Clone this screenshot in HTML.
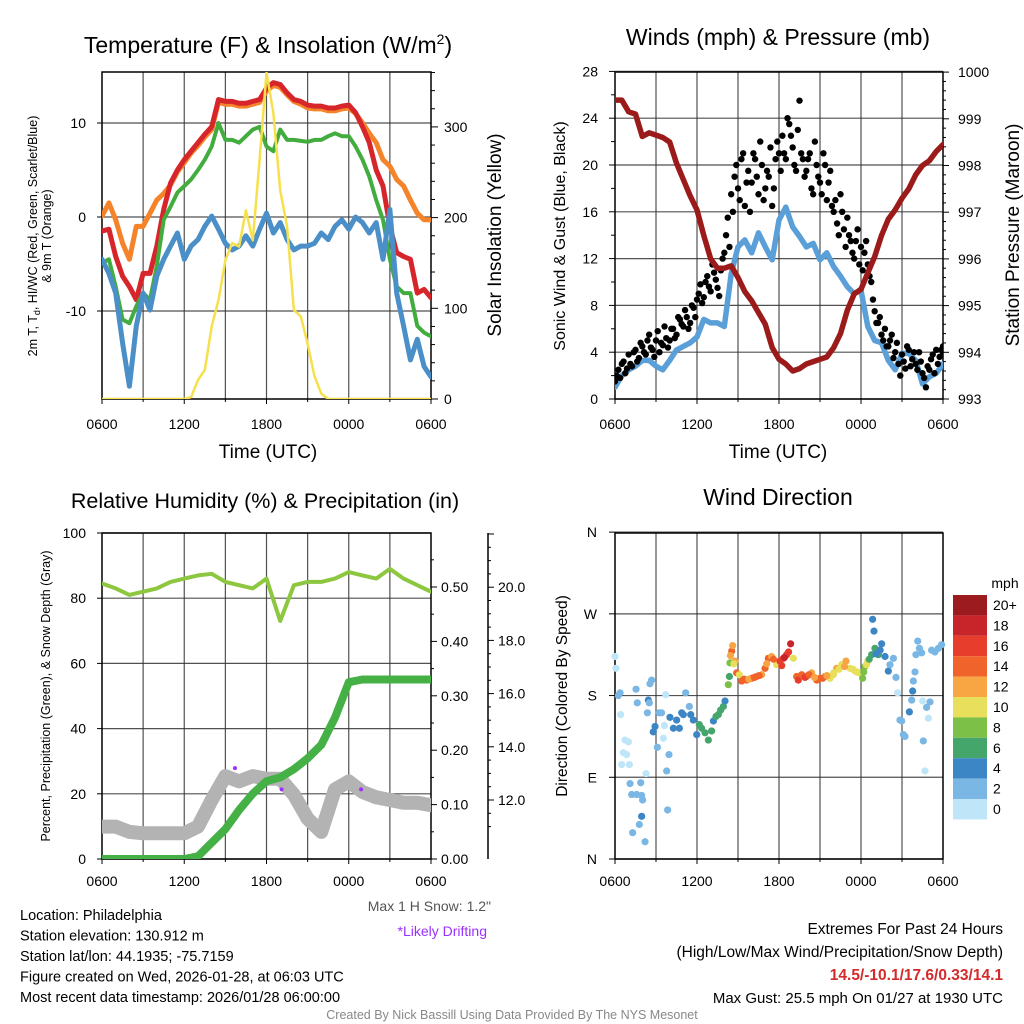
<!DOCTYPE html>
<html><head><meta charset="utf-8">
<style>
html,body{margin:0;padding:0;background:#fff;}
svg{display:block;font-family:"Liberation Sans",sans-serif;}
</style></head>
<body>
<svg id="c" width="1024" height="1024" viewBox="0 0 1024 1024" xmlns="http://www.w3.org/2000/svg">
<defs>
<clipPath id="cp1"><rect x="102" y="72" width="329" height="327"/></clipPath>
<clipPath id="cp2"><rect x="615" y="70" width="328" height="329"/></clipPath>
<clipPath id="cp3"><rect x="102" y="533" width="329" height="326"/></clipPath>
<clipPath id="cp4"><rect x="611" y="529" width="336" height="334"/></clipPath>
</defs>
</svg>
<script>
// ---------- data (half-hour steps from 0600 UTC, 49 values) ----------
const tRed=[-1.5,-1.3,-4.2,-6.3,-7.4,-8.8,-6,-6,-3.1,0.8,3.6,5,6.1,7,7.9,8.8,9.6,12.5,12.3,12.3,12.1,12.1,12.3,12.5,13.7,14.3,14.1,13.2,12.5,12.3,11.9,11.8,11.8,11.6,11.6,11.8,11.9,11.1,9.6,7.9,5.0,3.3,-1,-3.8,-4.2,-4.5,-8.1,-7.7,-8.6];
const tOrange=[0.1,1.5,-0.3,-2.8,-4.5,-1,-1,0.4,1.8,2.5,3.4,4.8,5.8,6.8,7.6,8.5,9.3,12.2,12.0,12.0,11.8,11.8,12.0,12.2,13.4,14.0,13.8,13.0,12.3,12.0,11.6,11.5,11.5,11.3,11.3,11.5,11.6,11.0,10.0,8.9,7.9,6.1,5.4,4.0,3.3,1.8,0.4,-0.3,-0.3];
const tGreen=[-4.9,-4.5,-7.4,-10.9,-11.3,-9.5,-8.1,-8.8,-5.2,-0.3,1.1,2.6,3.3,4,5,6.1,7.5,10,8.2,8.2,7.9,8.6,9.3,9.6,7.5,7,9.3,8.2,8.2,8.1,8,8.2,8.2,8.6,8.9,8.6,8.6,7.5,6.1,4.3,1.8,-0.3,-4.5,-7.4,-8.1,-8.1,-11.6,-12.3,-12.7];
const tBlue=[-4.5,-6,-8.1,-13.4,-18,-11.6,-8.1,-9.9,-6.3,-4.5,-3.1,-1.7,-4.5,-3.1,-2.4,-1,0.1,-1.3,-2.8,-3.5,-3.1,-2,-3.1,-1.3,0.4,-1.7,-0.6,-2.4,-3.5,-3.1,-3.1,-2.8,-1.7,-2.4,-1,-0.3,-1.3,0,-0.6,-1.7,-0.6,-4.5,0.8,-8.1,-11.6,-15.2,-13,-15.9,-17];
const insol=[0,0,0,0,0,0,0,0,0,0,0,0,0,2,21,32,80,109,153,172,168,208,175,264,360,315,230,190,98,91,61,25,6,0,0,0,0,0,0,0,0,0,0,0,0,0,0,0,0];
const wind=[1,2,2.5,2.8,3.3,3.3,2.8,2.5,3.3,4.2,4.5,4.8,5.3,6.8,6.5,6.5,6.2,10.7,13,13.6,12.5,14.2,13,11.9,15.3,16.4,14.7,13.9,13,13.3,11.9,12.5,11.3,10.5,9.6,9,9.3,6.2,5,4.8,3.3,2.5,3.9,3.9,3.3,1.3,1.9,2.2,3];
const pressure=[999.4,999.4,999.15,999.1,998.62,998.7,998.65,998.6,998.5,998.05,997.7,997.35,997.05,996.5,996.0,995.8,995.8,995.85,995.6,995.3,995.1,994.85,994.6,994.1,993.85,993.75,993.6,993.65,993.75,993.8,993.85,993.9,994.1,994.4,994.9,995.25,995.35,995.7,996.05,996.5,996.85,997.05,997.3,997.5,997.8,998.0,998.1,998.3,998.45];
// gusts, quarter-hour steps (97 values each; second set offset by 7.5 min)
const gust=[1.5,2.5,3,2.2,3.8,2.8,4.2,3.5, 4.5,3.8,5.5,4.2,5,4,4.6,5.2, 5,6,5.5,6.8,6.2,7,6.5,7.8, 8.5,9.8,8.7,10.5,9.2,10.8,9.5,11, 12.5,15.5,17.5,19,18,20.5,16.5,19.5, 18.5,20.5,17.5,20,18,19,16.5,20.5, 21,22.5,20.5,23.5,21.5,19.5,25.5,20.5, 19.5,21,17.5,20,18.5,21,17,19.5, 16,15,17.5,14.5,15.5,13.5,12,14.5, 13,12.5,11.5,10,7.5,6.5,5.5,6, 4.5,5.5,4,3,3.8,2.6,4.2,3.4, 3,4,2.2,1,2.5,3.8,4.2,3.6,4.5];
const gust2=[2,1.8,3.2,2.6,3,4,3.2,4.8, 4,5,4.4,3.6,5.8,4.8,6.2,4.4, 6,5.2,7,6.4,7.6,6,8,7, 9,8.2,10,9.6,11.5,10.2,8.8,12, 14,13,16,20,17,21,18.5,16, 21,19,22,17,19.5,21.5,18,22, 19.5,21,24,22.5,20,23,21,19, 20.5,18,22,19,17.5,20,18.5,16.5, 17,14,16,13,14,12.5,13.5,11.5, 11,13.5,10.5,8.5,6.5,7,5,4.5, 5,3.5,4.8,2,3.2,4.5,2.8,4, 2.5,3.2,1.8,2.8,3.4,2.2,3,4.2,4];
// RH / precip / snow, hourly (25 values)
const rh=[84.5,83,81,82,83,85,86,87,87.5,85,84,83,86,73,84,85,85,86,88,87,86,89,86,84,82];
const precip=[0,0,0,0,0,0,0,0.005,0.03,0.055,0.09,0.12,0.143,0.15,0.165,0.185,0.21,0.26,0.325,0.33,0.33,0.33,0.33,0.33,0.33];
const snow=[11.0,11.0,10.8,10.75,10.75,10.75,10.75,11.0,12.0,12.9,12.7,12.9,12.8,12.8,12.2,11.3,10.8,12.4,12.7,12.3,12.1,12.0,11.9,11.9,11.8];
const driftHours=[9.7,13.1,18.9];
const driftSnow=[13.2,12.4,12.4];
// wind direction
const dirHours=[0,0.07,0.37,0.24,0.41,0.73,0.98,0.61,0.85,0.49,1.05,1.1,1.22,1.59,1.88,1.95,2.02,1.95,1.78,1.29,2.2,2.27,1.54,1.63,2.44,2.51,2.37,2.56,2.68,2.8,2.93,3.1,3.24,3.41,3.54,3.61,3.78,3.85,3.95,3.71,4.02,4.27,4.51,4.71,4.88,5,5.17,5.44,5.54,5.73,5.98,6.17,6.34,6.59,6.83,7.07,7.2,7.39,7.56,7.73,7.93,8.05,8.29,8.37,8.41,8.54,8.61,8.78,8.9,9.1,9.27,9.63,10,10.37,10.73,10.98,11.22,11.46,11.83,12.07,12.32,12.56,12.85,13.05,13.29,13.41,13.66,14.02,14.39,14.76,15,15.37,15.73,15.98,16.22,16.59,16.9,17.2,17.56,17.88,18.12,18.29,18.49,18.78,19.02,19.27,19.51,19.76,18.85,18.95,20,20.12,20.37,20.56,20.68,20.85,20.98,21.1,21.22,21.54,21.71,21.78,21.83,21.95,22.02,22.15,22.27,22.44,22.51,22.56,22.68,22.8,22.93,23.05,23.17,23.41,23.66,23.9,9.45,9.8,10.2,10.55,11.1,11.6,12.2,12.4,12.7,13.9,14.2,14.6,15.2,15.5,16,16.4,16.8,17.4,17.7,18.2,18.4,18.6,19.1,19.4,8.45,8.7];
const dirDegs=[223,210,183,180,159,131,129,117,115,104,104,83,71,71,84,70,65,47,38,29,19,94,187,172,175,172,161,193,197,140,146,123,161,161,133,147,97,54,115,181,156,144,153,144,161,159,183,168,159,153,137,148,144,139,131,141,152,157,159,164,168,174,192,201,216,229,235,218,205,203,196,197,199,201,203,210,221,223,214,218,221,225,237,221,201,197,203,201,205,197,199,201,199,203,210,214,218,210,207,205,199,212,218,225,232,225,237,223,264,251,207,214,221,200,183,153,152,137,135,162,175,185,196,206,225,240,232,227,174,130,97,167,155,173,230,228,232,236,198,198,200,202,215,220,213,222,228,200,203,200,199,202,205,209,212,209,206,206,214,220,226,230,224,215];
const dirSpeeds=[1,1,3,3,1,1,1,1,1,1,1,3,3,3,3,3,3,5,3,3,3,1,3,3,5,3,3,3,3,5,5,3,3,3,1,1,3,3,3,1,5,5,5,5,5,5,3,3,5,5,5,7,7,7,7,7,5,7,7,7,7,5,9,7,9,15,13,13,15,11,15,15,15,15,13,15,15,13,11,17,17,17,19,11,15,17,15,15,13,15,15,15,11,11,13,11,13,11,11,11,9,9,11,7,7,7,5,5,5,5,5,3,3,3,1,3,3,3,3,5,3,5,3,3,3,3,3,3,1,3,1,3,1,3,3,3,3,3,15,13,15,15,13,15,17,19,17,17,15,13,15,13,11,11,13,11,11,9,11,7,5,5,13,11];
const cbLabels=["20+","18","16","14","12","10","8","6","4","2","0"];
const cbColors=["#9b1b1e","#c8252a","#e63d2d","#f0642b","#f8a544","#e8df5c","#7dc047","#45a66c","#3d86c6","#7ab7e4","#bfe5f8"];
const xTickLabels=["0600","1200","1800","0000","0600"];
const tTicks=[-10,0,10];
const iTicks=[0,100,200,300];
const wTicks=[0,4,8,12,16,20,24,28];
const pTicks=[993,994,995,996,997,998,999,1000];
const rhTicks=[0,20,40,60,80,100];
const prTicks=[0,0.1,0.2,0.3,0.4,0.5];
const snTicks=[12,14,16,18,20];
const dirTicks=[0,90,180,270,360];
const dirTickLabels=["N","E","S","W","N"];

// ---------- scales ----------
const X1=h=>102+h*329/24, X2=h=>615+h*328/24;
const yT=v=>217-v*9.4, yI=v=>399-v*0.907;
const yW=v=>399-v*11.7, yP=v=>399-(v-993)*46.7;
const yRH=v=>859-v*3.26, yPr=v=>859-v*544, ySn=v=>800-(v-12)*26.6;
const yD=v=>859-v*0.908;

const svg=document.getElementById('c');
const NS="http://www.w3.org/2000/svg";
function mk(tag,attrs,parent){const e=document.createElementNS(NS,tag);for(const k in attrs)e.setAttribute(k,attrs[k]);(parent||svg).appendChild(e);return e;}
function txt(s,x,y,size,anchor,parent,extra){const e=mk('text',Object.assign({x:x,y:y,'font-size':size,'text-anchor':anchor||'start',fill:'#000'},extra||{}),parent);e.textContent=s;return e;}
function grp(name,clip){const g=mk('g',clip?{'clip-path':'url(#'+clip+')'}:{});return g;}
function poly(arr,step,X,Y,color,w,parent,name){let d='';arr.forEach((v,i)=>{d+=(i?'L':'M')+X(i*step).toFixed(1)+','+Y(v).toFixed(1);});const p=mk('path',{d:d,fill:'none',stroke:color,'stroke-width':w,'stroke-linejoin':'round','stroke-linecap':'round'},parent);return p;}

function frame(x0,x1,y0,y1,hTicksY,parent){
  for(let i=1;i<8;i++){const x=x0+(x1-x0)*i/8;mk('line',{x1:x,x2:x,y1:y0,y2:y1,stroke:'#333','stroke-width':1.2,'stroke-opacity':0.85},parent);}
  hTicksY.forEach(y=>mk('line',{x1:x0,x2:x1,y1:y,y2:y,stroke:'#333','stroke-width':1.2,'stroke-opacity':0.85},parent));
  mk('rect',{x:x0,y:y0,width:x1-x0,height:y1-y0,fill:'none',stroke:'#000','stroke-width':1.5},parent);
  for(let i=0;i<=8;i++){const x=x0+(x1-x0)*i/8;mk('line',{x1:x,x2:x,y1:y1,y2:y1+(i%2?3:5),stroke:'#000','stroke-width':1},parent);}
}
function xlabels(x0,x1,y,parent){xTickLabels.forEach((s,i)=>{const t=txt(s,x0+(x1-x0)*i/4,y,14,'middle',parent);});}

// ---------- Panel 1 ----------
const g1=grp('temperature-panel');
frame(102,431,72,399,tTicks.map(yT),g1);
const c1=mk('g',{'clip-path':'url(#cp1)'},g1);
poly(tOrange,0.5,X1,yT,'#f5832a',5,c1,'temp-9m-orange-line');
poly(tRed,0.5,X1,yT,'#d7262b',5,c1,'temp-2m-red-line');
poly(tGreen,0.5,X1,yT,'#42ad3e',4,c1,'heat-index-green-line');
poly(tBlue,0.5,X1,yT,'#4a8fc7',5,c1,'dewpoint-blue-line');
poly(insol,0.5,X1,yI,'#f7e04d',2.5,c1,'insolation-yellow-line');
tTicks.forEach(v=>{mk('line',{x1:97,x2:102,y1:yT(v),y2:yT(v),stroke:'#000'},g1);txt(String(v),86,yT(v)+5,14,'end',g1);});
for(let v=0;v<=360;v+=20){mk('line',{x1:431,x2:v%100?435:438,y1:yI(v),y2:yI(v),stroke:'#000'},g1);}
iTicks.forEach(v=>txt(String(v),444,yI(v)+5,14,'start',g1));
xlabels(102,431,429,g1);
const t1=txt('Temperature (F) & Insolation (W/m',268,53,23,'middle',g1);
const sup=mk('tspan',{dy:-9,'font-size':14},t1);sup.textContent='2';
const sup2=mk('tspan',{dy:9},t1);sup2.textContent=')';

txt('Time (UTC)',268,458,19,'middle',g1);
const yl1=txt('2m T, T',0,0,12.5,'middle',g1,{transform:'translate(37,236) rotate(-90)'});
const sb=mk('tspan',{dy:3,'font-size':9},yl1);sb.textContent='d';
const sb2=mk('tspan',{dy:-3},yl1);sb2.textContent=', HI/WC (Red, Green, Scarlet/Blue)';
txt('& 9m T (Orange)',0,0,12.5,'middle',g1,{transform:'translate(51,236) rotate(-90)'});
txt('Solar Insolation (Yellow)',0,0,19,'middle',g1,{transform:'translate(501,235) rotate(-90)'});

// ---------- Panel 2 ----------
const g2=grp('wind-panel');
frame(615,943,72,399,wTicks.map(yW),g2);
const c2=mk('g',{'clip-path':'url(#cp2)'},g2);
poly(wind,0.5,X2,yW,'#5a9fd8',5.5,c2,'sonic-wind-line');
gust.forEach((v,i)=>{const c=mk('circle',{cx:X2(i*24/(gust.length-1)),cy:yW(v),r:3.2,fill:'#000'},c2);

});
gust2.forEach((v,i)=>{const c=mk('circle',{cx:X2(Math.min(24,i*24/(gust2.length-1)+0.125)),cy:yW(v),r:3.2,fill:'#000'},c2);

});
poly(pressure,0.5,X2,yP,'#9b1a1a',5.5,c2,'pressure-line');
for(let v=0;v<=28;v+=2){mk('line',{x1:v%4?611:609,x2:615,y1:yW(v),y2:yW(v),stroke:'#000'},g2);}
wTicks.forEach(v=>txt(String(v),598,yW(v)+5,14,'end',g2));
for(let v=993;v<=1000.001;v+=0.2){mk('line',{x1:943,x2:Math.abs(v-Math.round(v))<0.01?949:946,y1:yP(v),y2:yP(v),stroke:'#000'},g2);}
pTicks.forEach(v=>txt(String(v),958,yP(v)+5,14,'start',g2));
xlabels(615,943,429,g2);
txt('Winds (mph) & Pressure (mb)',778,45,23,'middle',g2);
txt('Time (UTC)',778,458,19,'middle',g2);
txt('Sonic Wind & Gust (Blue, Black)',0,0,16,'middle',g2,{transform:'translate(565,236) rotate(-90)'});
txt('Station Pressure (Maroon)',0,0,19,'middle',g2,{transform:'translate(1019,235) rotate(-90)'});

// ---------- Panel 3 ----------
const g3=grp('humidity-panel');
frame(102,431,533,859,rhTicks.map(yRH),g3);
const c3=mk('g',{'clip-path':'url(#cp3)'},g3);
poly(rh,1,X1,yRH,'#8dc63f',4,c3,'rh-line');
poly(snow,1,X1,ySn,'#b3b3b3',14,c3,'snow-depth-line');
poly(precip,1,X1,yPr,'#45b045',8,c3,'precip-line');
driftHours.forEach((h,i)=>{const c=mk('circle',{cx:X1(h),cy:ySn(driftSnow[i]),r:2,fill:'#9b30ff'},c3);

});
rhTicks.forEach(v=>{mk('line',{x1:97,x2:102,y1:yRH(v),y2:yRH(v),stroke:'#000'},g3);txt(String(v),86,yRH(v)+5,14,'end',g3);});
for(let v=0;v<=0.6;v+=0.05){if(yPr(v)<533)break;mk('line',{x1:431,x2:Math.round(v*100)%10?434:437,y1:yPr(v),y2:yPr(v),stroke:'#000'},g3);}
prTicks.forEach(v=>txt(v.toFixed(2),441,yPr(v)+5,14,'start',g3));
mk('line',{x1:488,x2:488,y1:533,y2:859,stroke:'#000','stroke-width':1.5},g3);
for(let v=11;v<=23;v+=0.5){const y=ySn(v);if(y<533||y>859)continue;mk('line',{x1:488,x2:(v%2===0)?494:491,y1:y,y2:y,stroke:'#000'},g3);}
snTicks.forEach(v=>txt(v.toFixed(1),498,ySn(v)+5,14,'start',g3));
xlabels(102,431,886,g3);
txt('Relative Humidity (%) & Precipitation (in)',265,508,21.5,'middle',g3);
txt('Percent, Precipitation (Green), & Snow Depth (Gray)',0,0,12.5,'middle',g3,{transform:'translate(50,696) rotate(-90)'});
txt('Max 1 H Snow: 1.2"',491,911,14,'end',g3,{fill:'#555'});
txt('*Likely Drifting',487,936,14,'end',g3,{fill:'#9b30ff'});

// ---------- Panel 4 ----------
const g4=grp('wind-direction-panel');
frame(615,943,533,859,dirTicks.map(yD),g4);
const c4=mk('g',{'clip-path':'url(#cp4)'},g4);
function spColor(s){return cbColors[10-Math.min(10,Math.floor(s/2))];}
dirHours.forEach((h,i)=>{const c=mk('circle',{cx:X2(h),cy:yD(dirDegs[i]),r:3.6,fill:spColor(dirSpeeds[i])},c4);

});
dirTicks.forEach((v,i)=>{mk('line',{x1:609,x2:615,y1:yD(v),y2:yD(v),stroke:'#000'},g4);txt(dirTickLabels[i],597,yD(v)+5,14,'end',g4);});
xlabels(615,943,886,g4);
txt('Wind Direction',778,505,23,'middle',g4);
txt('Direction (Colored By Speed)',0,0,15.5,'middle',g4,{transform:'translate(567,696) rotate(-90)'});
const cb=grp('speed-colorbar');
txt('mph',1005,588,14,'middle',cb);
cbColors.forEach((col,i)=>{const r=mk('rect',{x:953,y:595+i*20.4,width:34,height:20.4,fill:col},cb);


txt(cbLabels[i],993,595+i*20.4+15,14,'start',cb);});

// ---------- footer ----------
const ft=grp('footer-info');
['Location: Philadelphia','Station elevation: 130.912 m','Station lat/lon: 44.1935; -75.7159','Figure created on Wed, 2026-01-28, at 06:03 UTC','Most recent data timestamp: 2026/01/28 06:00:00'].forEach((s,i)=>txt(s,20,920+i*20.5,14.5,'start',ft));
txt('Extremes For Past 24 Hours',1003,934,15.5,'end',ft);
txt('(High/Low/Max Wind/Precipitation/Snow Depth)',1003,957,15.5,'end',ft);
txt('14.5/-10.1/17.6/0.33/14.1',1003,980,15.5,'end',ft,{fill:'#d42a2a','font-weight':'bold'});
txt('Max Gust: 25.5 mph On 01/27 at 1930 UTC',1003,1003,15,'end',ft);
txt('Created By Nick Bassill Using Data Provided By The NYS Mesonet',512,1019,12.5,'middle',ft,{fill:'#888'});
</script>
</body></html>
